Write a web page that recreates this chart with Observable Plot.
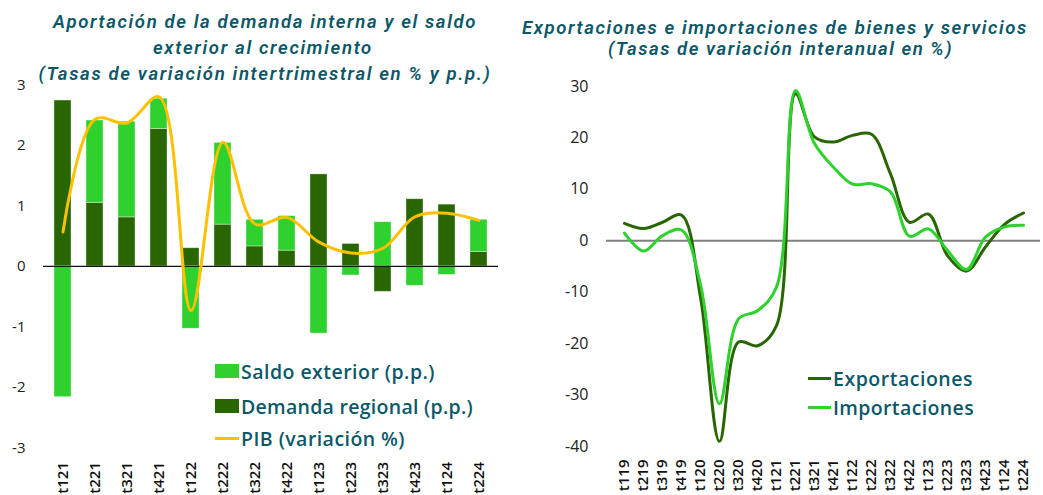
<!DOCTYPE html>
<html><head><meta charset="utf-8">
<script src="https://cdn.jsdelivr.net/npm/d3@7"></script>
<script src="https://cdn.jsdelivr.net/npm/@observablehq/plot@0.6"></script>
<style>
body{margin:0;background:#fff;}
#wrap{position:relative;width:1043px;height:495px;overflow:hidden;font-family:"Open Sans","Noto Sans",sans-serif;}
#left,#right{position:absolute;top:0;}
#left{left:0;} #right{left:520px;}
.tl{position:absolute;width:600px;text-align:center;color:#0d5868;font-family:Roboto,sans-serif;font-style:italic;font-weight:600;font-size:18.6px;line-height:21px;white-space:nowrap;}
.tl span, .leg span.t{display:inline-block;white-space:nowrap;}
.leg{position:absolute;color:#0d5868;font-weight:600;font-size:19.5px;display:flex;align-items:center;white-space:nowrap;height:22px;}
.sw{display:inline-block;width:24px;height:14px;margin-right:2px;}
.ln{display:inline-block;width:24px;height:3px;margin-right:2px;}
</style>
</head><body>
<div id="wrap">
  <div id="left"></div>
  <div id="right"></div>
  <div class="tl" style="left:-35px;top:11.5px;"><span data-w="424">Aportación de la demanda interna y el saldo</span></div>
  <div class="tl" style="left:-37px;top:37.5px;"><span data-w="220">exterior al crecimiento</span></div>
  <div class="tl" style="left:-35px;top:63.5px;"><span data-w="453">(Tasas de variación intertrimestral en % y p.p.)</span></div>
  <div class="tl" style="left:475px;top:17.5px;"><span data-w="506">Exportaciones e importaciones de bienes y servicios</span></div>
  <div class="tl" style="left:480.5px;top:39px;"><span data-w="345">(Tasas de variación interanual en %)</span></div>
  <div class="leg" style="left:215px;top:360px;"><span class="sw" style="background:#2ed12e"></span><span class="t" data-w="194">Saldo exterior (p.p.)</span></div>
  <div class="leg" style="left:215px;top:395px;"><span class="sw" style="background:#286600"></span><span class="t" data-w="232">Demanda regional (p.p.)</span></div>
  <div class="leg" style="left:215px;top:427px;"><span class="ln" style="background:#ffc000"></span><span class="t" data-w="164">PIB (variación %)</span></div>
  <div class="leg" style="left:808px;top:367px;"><span class="ln" style="background:#286600;width:23px"></span><span class="t" data-w="140">Exportaciones</span></div>
  <div class="leg" style="left:808px;top:396px;"><span class="ln" style="background:#2ed12e;width:23px"></span><span class="t" data-w="141">Importaciones</span></div>
</div>
<script>
// ---- Left chart data ----
const quartersL = ["t121","t221","t321","t421","t122","t222","t322","t422","t123","t223","t323","t423","t124","t224"];
const demanda = [2.74, 1.05, 0.81, 2.27, 0.30, 0.69, 0.33, 0.26, 1.52, 0.37, -0.42, 1.11, 1.02, 0.24];
const saldo   = [-2.16, 1.36, 1.58, 0.50, -1.03, 1.35, 0.44, 0.57, -1.11, -0.15, 0.73, -0.32, -0.14, 0.53];
const pib     = [0.57, 2.43, 2.37, 2.80, -0.73, 2.05, 0.70, 0.81, 0.40, 0.22, 0.30, 0.82, 0.88, 0.76];
const ticksL  = [-3, -2, -1, 0, 1, 2, 3];

// ---- Right chart data ----
const quartersR = ["t119","t219","t319","t419","t120","t220","t320","t420","t121","t221","t321","t421","t122","t222","t322","t422","t123","t223","t323","t423","t124","t224"];
const exportaciones = [3.4, 2.4, 3.6, 5.0, -11.0, -39.0, -19.7, -20.4, -16.5, 28.6, 20.2, 19.2, 20.5, 20.7, 13.0, 3.6, 5.2, -2.9, -5.9, -1.2, 3.2, 5.4];
const importaciones = [1.5, -2.0, 1.0, 2.1, -8.5, -31.7, -15.2, -13.6, -9.0, 29.2, 18.9, 14.3, 11.0, 11.1, 9.5, 0.9, 2.3, -1.9, -5.6, 0.7, 2.7, 3.0];
const ticksR = [-40, -30, -20, -10, 0, 10, 20, 30];

// fit text widths (letter-spacing) to the reference widths
document.querySelectorAll("[data-w]").forEach(el => {
  const target = +el.dataset.w;
  const w = el.getBoundingClientRect().width;
  const n = el.textContent.length;
  el.style.letterSpacing = ((target - w) / n) + "px";
});

const SALDO = "Saldo exterior (p.p.)", DEM = "Demanda regional (p.p.)";
const barRows = quartersL.flatMap((q, i) => [
  {q, s: DEM, v: demanda[i]},
  {q, s: SALDO, v: saldo[i]}
]);
const pibRows = quartersL.map((q, i) => ({q, v: pib[i]}));

const left = Plot.plot({
  width: 520, height: 495,
  marginTop: 84.3, marginBottom: 47.5, marginLeft: 36, marginRight: 14,
  style: {fontFamily: "'Open Sans', sans-serif", background: "transparent", color: "#222"},
  x: {domain: quartersL, padding: 0.46},
  y: {domain: [-3, 3]},
  color: {domain: [SALDO, DEM], range: ["#2ed12e", "#286600"]},
  marks: [
    Plot.axisY({ticks: ticksL, tickSize: 0, tickPadding: 11, fontSize: 15, tickFormat: d => String(d), label: null}),
    Plot.axisX({tickSize: 0, tickRotate: -90, tickPadding: 14, fontSize: 15, fontWeight: 600, fill: "#111", label: null}),
    Plot.barY(barRows, {x: "q", y: "v", fill: "s", stroke: "#ffffff", strokeOpacity: 0.45, strokeWidth: 0.8}),
    Plot.ruleY([0], {stroke: "#111", strokeWidth: 1.4, insetLeft: 7, insetRight: 8}),
    Plot.lineY(pibRows, {x: "q", y: "v", stroke: "#ffc000", strokeWidth: 3, curve: "catmull-rom"})
  ]
});
document.getElementById("left").appendChild(left);

const expRows = quartersR.map((q, i) => ({q, v: exportaciones[i]}));
const impRows = quartersR.map((q, i) => ({q, v: importaciones[i]}));

const right = Plot.plot({
  width: 523, height: 495,
  marginTop: 86, marginBottom: 49, marginLeft: 86, marginRight: 3,
  style: {fontFamily: "'Open Sans', sans-serif", background: "transparent", color: "#222"},
  x: {type: "point", domain: quartersR, padding: 0.55},
  y: {domain: [-40, 30]},
  marks: [
    Plot.axisY({ticks: ticksR, tickSize: 0, tickPadding: 18, fontSize: 16, tickFormat: d => String(d), label: null}),
    Plot.axisX({tickSize: 0, tickRotate: -90, tickPadding: 13, fontSize: 15, fontWeight: 600, fill: "#111", label: null}),
    Plot.ruleY([0], {stroke: "#808080", strokeWidth: 2}),
    Plot.lineY(expRows, {x: "q", y: "v", stroke: "#286600", strokeWidth: 3, curve: "catmull-rom"}),
    Plot.lineY(impRows, {x: "q", y: "v", stroke: "#2ed12e", strokeWidth: 3, curve: "catmull-rom"})
  ]
});
document.getElementById("right").appendChild(right);
</script>
</body></html>
